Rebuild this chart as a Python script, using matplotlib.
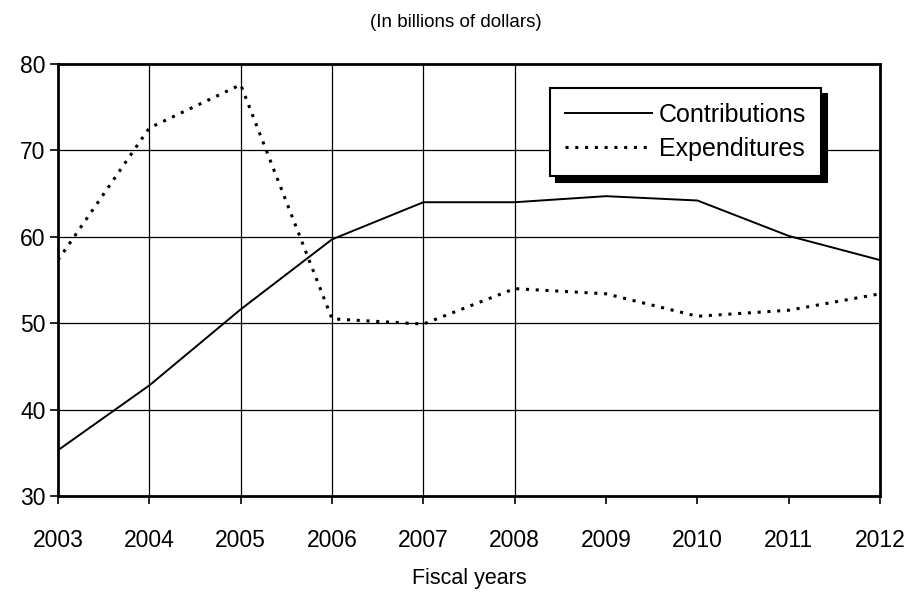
import matplotlib.pyplot as plt

plt.rcParams['font.family'] = ['Liberation Sans', 'DejaVu Sans']

years = [2003, 2004, 2005, 2006, 2007, 2008, 2009, 2010, 2011, 2012]
contributions = [35.3, 42.8, 51.6, 59.7, 64.0, 64.0, 64.7, 64.2, 60.1, 57.3]
expenditures = [57.3, 72.6, 77.6, 50.5, 49.9, 54.0, 53.4, 50.8, 51.5, 53.4]

fig = plt.figure(figsize=(9.12, 5.93), dpi=100)
ax = fig.add_axes([0.0636, 0.1636, 0.9014, 0.7285])

# grid: horizontal at every 10, vertical only at 2004-2008 like the original
for y in [40, 50, 60, 70]:
    ax.axhline(y, color='black', lw=0.9, zorder=1)
for x in [2004, 2005, 2006, 2007, 2008]:
    ax.axvline(x, color='black', lw=0.9, zorder=1)

ax.plot(years, contributions, color='black', lw=1.4, label='Contributions', zorder=3)
ax.plot(years, expenditures, color='black', lw=2.2, linestyle=(0, (1, 2.2)),
        label='Expenditures', zorder=3)

ax.set_xlim(2003, 2012)
ax.set_ylim(30, 80)
ax.set_xticks(years)
ax.set_yticks([30, 40, 50, 60, 70, 80])
ax.tick_params(axis='both', labelsize=16.5, color='black', width=1.2)
ax.tick_params(axis='x', length=6, direction='out', pad=18)
ax.tick_params(axis='y', length=6, direction='out', pad=3)
for s in ax.spines.values():
    s.set_linewidth(2)

ax.set_xlabel('Fiscal years', fontsize=15.5, labelpad=11)
fig.text(0.5, 0.962, '(In billions of dollars)', ha='center', va='center', fontsize=13.5)

leg = ax.legend(loc='upper right', bbox_to_anchor=(0.928, 0.944), fontsize=18,
                frameon=True, fancybox=False, handlelength=3.5, handletextpad=0.25,
                borderpad=0.6, labelspacing=0.4, borderaxespad=0,
                shadow={'color': 'black', 'alpha': 1, 'ox': 4.5, 'oy': -4.5})
leg.get_frame().set_edgecolor('black')
leg.get_frame().set_linewidth(1.5)
leg.get_frame().set_alpha(1)

fig.savefig('out.png', dpi=100)
